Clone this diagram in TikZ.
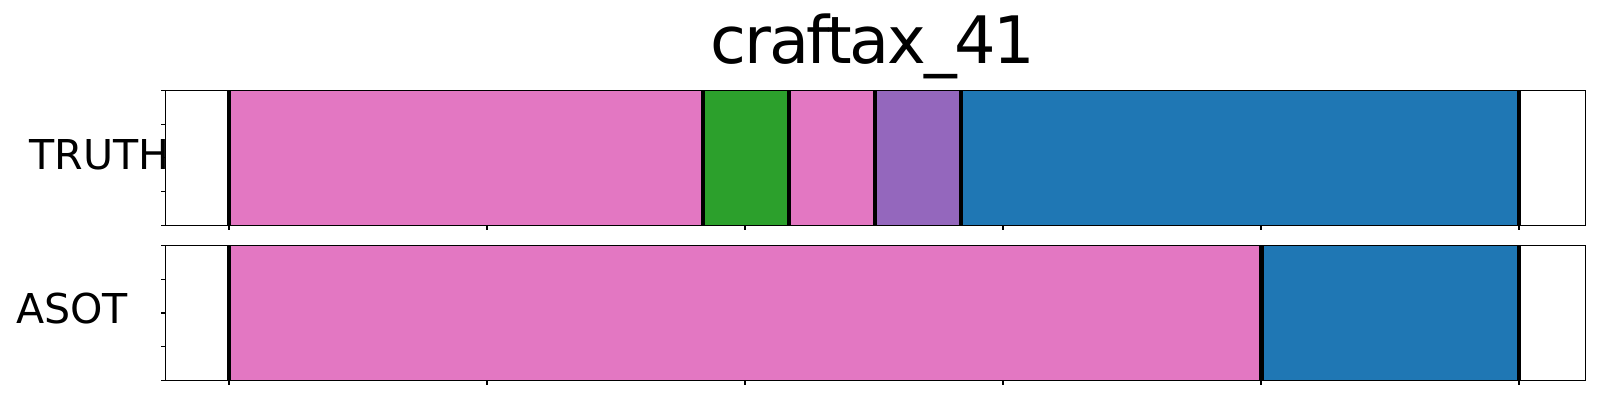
\documentclass[tikz,border=0pt]{standalone}
\usepackage{fontspec}
\setmainfont{DejaVu Sans}
\newfontfamily\titlefont[LetterSpace=-3.5]{DejaVu Sans}
\definecolor{tabpink}{HTML}{E377C2}
\definecolor{tabgreen}{HTML}{2CA02C}
\definecolor{tabpurple}{HTML}{9467BD}
\definecolor{tabblue}{HTML}{1F77B4}
\begin{document}
\begin{tikzpicture}[
		x=0.01cm, y=-0.01cm,
		frame/.style={draw=black, line width=0.38pt},
		cut/.style={draw=black, line width=1.15pt},
		tick/.style={draw=black, line width=0.3pt},
		lab/.style={inner sep=0pt, anchor=base west, font=\fontsize{11.7pt}{14pt}\selectfont}
	]
	\useasboundingbox (0,0) rectangle (1600,400);
	% title
	\node[inner sep=0pt, anchor=base, font=\titlefont\fontsize{18.6pt}{22pt}\selectfont] (title) at (873,63.3) {craftax\_41};
	% TRUTH row
	\foreach \a/\b/\c in {229/702.7/tabpink, 702.7/789/tabgreen, 789/875/tabpink, 875/960.7/tabpurple, 960.7/1519/tabblue}
		\fill[\c] (\a,90.3) rectangle (\b,225.3);
	\foreach \a in {229, 702.7, 789, 875, 960.7, 1519}
		\draw[cut] (\a,90.3) -- (\a,225.3);
	% ASOT row
	\foreach \a/\b/\c in {229/1261.5/tabpink, 1261.5/1519/tabblue}
		\fill[\c] (\a,245.7) rectangle (\b,380.3);
	\foreach \a in {229, 1261.5, 1519}
		\draw[cut] (\a,245.7) -- (\a,380.3);
	% frames and ticks
	\foreach \t/\bt in {90.3/225.3, 245.7/380.3} {
			\draw[frame] (165.7,\t) rectangle (1585.7,\bt);
			\foreach \k in {0,1,2,3,4}
				\draw[tick] (165.7,{\t+\k*(\bt-\t)/4}) -- ++(-4.7,0);
			\foreach \k in {0,...,5}
				\draw[tick] ({229+\k*258},\bt) -- ++(0,4.7);
		}
	\node[lab] (truth) at (29,169.3) {TRUTH};
	\node[lab] (asot) at (15.4,323.3) {ASOT};
\end{tikzpicture}
\end{document}
